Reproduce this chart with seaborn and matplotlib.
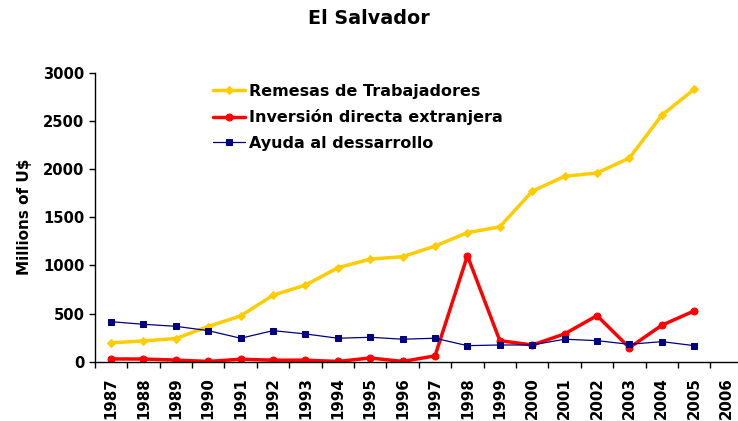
import matplotlib
matplotlib.use("Agg")
from matplotlib import pyplot as plt
from matplotlib.ticker import FixedLocator
import seaborn as sns

years = [str(y) for y in range(1987, 2007)]

remesas = [195, 215, 240, 365, 475, 690, 795, 975, 1065, 1090,
           1200, 1340, 1400, 1770, 1925, 1960, 2115, 2560, 2830]
inversion = [28, 27, 16, 2, 25, 15, 15, 2, 38, 2,
             60, 1100, 218, 173, 288, 478, 145, 378, 527]
ayuda = [415, 388, 367, 322, 243, 322, 288, 243, 253, 233,
         243, 166, 173, 173, 233, 218, 180, 208, 166]

sns.set_style("white")
plt.rcParams['font.family'] = ['DejaVu Sans']
plt.rcParams['font.weight'] = 'bold'
for k in ['text.color', 'axes.labelcolor', 'xtick.color', 'ytick.color']:
    plt.rcParams[k] = 'black'

fig = plt.figure(figsize=(7.38, 4.21), dpi=100)
ax = fig.add_axes([0.1285, 0.141, 0.878, 0.686])

idx = list(range(len(remesas)))
sns.lineplot(x=idx, y=remesas, ax=ax, color="#FFCC00", linewidth=2.5,
             marker="D", markersize=4.5, markeredgecolor="#FFCC00",
             label="Remesas de Trabajadores")
sns.lineplot(x=idx, y=inversion, ax=ax, color="#FF0000", linewidth=2.5,
             marker="o", markersize=5, markeredgecolor="#FF0000",
             label="Inversión directa extranjera")
sns.lineplot(x=idx, y=ayuda, ax=ax, color="#000080", linewidth=0.9,
             marker="s", markersize=5, markeredgecolor="#000080",
             label="Ayuda al dessarrollo")

ax.set_xlim(-0.5, len(years) - 0.5)
ax.set_ylim(0, 3000)
ax.set_yticks(range(0, 3001, 500))
ax.set_xticks(range(len(years)))
ax.set_xticklabels(years, rotation=90, fontsize=10.8, fontweight="bold")
ax.xaxis.set_minor_locator(FixedLocator([i - 0.5 for i in range(len(years) + 1)]))
ax.tick_params(axis="x", which="major", bottom=True, length=0, pad=11)
ax.tick_params(axis="x", which="minor", bottom=True, length=4.5, width=1,
               direction="out", color="black")
ax.tick_params(axis="y", left=True, length=4.5, width=1, direction="out",
               color="black", labelsize=10.6, pad=3)
for lab in ax.get_yticklabels():
    lab.set_fontweight("bold")

for s in ["top", "right"]:
    ax.spines[s].set_visible(False)
for s in ["left", "bottom"]:
    ax.spines[s].set_color("black")
    ax.spines[s].set_linewidth(1)

ax.set_ylabel("Millions of U$", fontsize=11, fontweight="bold", labelpad=8)
fig.suptitle("El Salvador", fontsize=13.8, fontweight="bold", y=0.978)

leg = ax.legend(loc="upper left", bbox_to_anchor=(0.183, 0.962), frameon=False,
                fontsize=11.5, handlelength=1.95, handletextpad=0.3,
                labelspacing=0.66, borderpad=0, borderaxespad=0)

fig.savefig("out.png", dpi=100)
